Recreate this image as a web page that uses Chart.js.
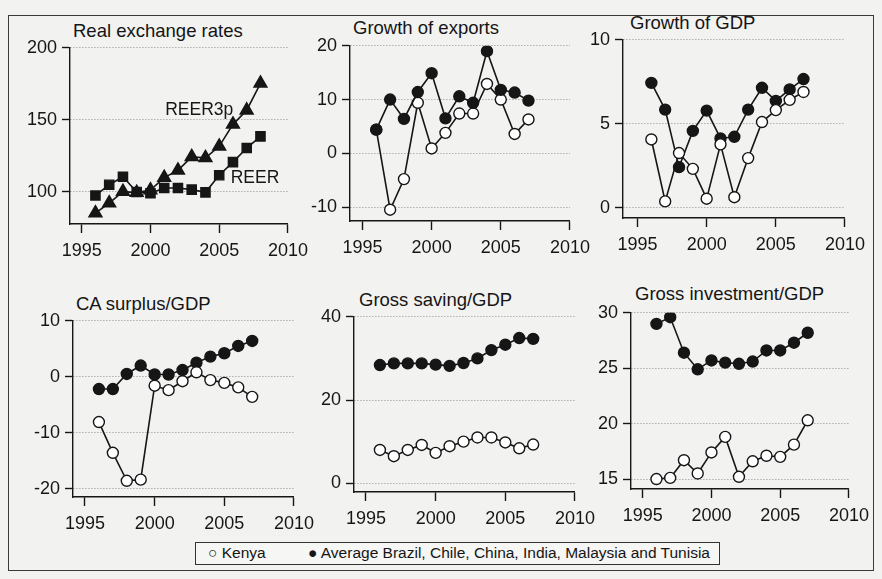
<!DOCTYPE html>
<html>
<head>
<meta charset="utf-8">
<script src="https://cdn.jsdelivr.net/npm/chart.js@4.4.1/dist/chart.umd.min.js"></script>
<style>
  body { margin: 0; width: 882px; height: 579px; position: relative; overflow: hidden;
         background: #f2f2f0; font-family: "Liberation Sans", Arial, Helvetica, sans-serif; color: #151515; }
  #frame { position: absolute; left: 8px; top: 15px; width: 864px; height: 554px; border: 1.5px solid #3a3a3a; }
  .ttl { position: absolute; font-size: 18.5px; line-height: 18px; white-space: nowrap; }
  canvas { position: absolute; }
  #legend { position: absolute; left: 195px; top: 542px; width: 523px; height: 21px; border: 1px solid #333; background: #f6f6f4; }
  #legend span { position: absolute; top: 1px; font-size: 15.5px; line-height: 18px; white-space: nowrap; }
</style>
</head>
<body>
<div id="frame"></div>

<div class="ttl" style="left:73px; top:22px">Real exchange rates</div>
<div class="ttl" style="left:353px; top:19px">Growth of exports</div>
<div class="ttl" style="left:630px; top:14px">Growth of GDP</div>
<div class="ttl" style="left:76px; top:295px">CA surplus/GDP</div>
<div class="ttl" style="left:359px; top:291px">Gross saving/GDP</div>
<div class="ttl" style="left:635px; top:285px">Gross investment/GDP</div>

<div id="legend">
  <span style="left:12px">○ Kenya</span>
  <span style="left:112px">● Average Brazil, Chile, China, India, Malaysia and Tunisia</span>
</div>

<script>
// years
const years = [1996, 1997, 1998, 1999, 2000, 2001, 2002, 2003, 2004, 2005, 2006, 2007];
const yearsReer = [1996, 1997, 1998, 1999, 2000, 2001, 2002, 2003, 2004, 2005, 2006, 2007, 2008];
const xTicks = [1995, 2000, 2005, 2010];

// real exchange rates (index)
const reer   = [97.3, 104.8, 110.3, 99.8, 98.9, 102.5, 102.5, 101.4, 99.5, 111.4, 120.5, 130.3, 138.4];
const reer3p = [85.1, 92.0, 100.0, 99.3, 101.1, 109.8, 114.8, 124.2, 123.5, 131.5, 146.8, 156.6, 175.3];
const reerTicks = [100, 150, 200];

// growth of exports (%)
const exportsKenya = [4.4, -10.5, -4.8, 9.4, 0.9, 3.8, 7.4, 7.4, 12.9, 10.0, 3.6, 6.3];
const exportsAvg   = [4.4, 10.0, 6.4, 11.4, 14.9, 6.5, 10.6, 9.4, 19.0, 11.8, 11.3, 9.8];
const exportsTicks = [-10, 0, 10, 20];

// growth of GDP (%)
const gdpKenya = [4.06, 0.37, 3.25, 2.31, 0.53, 3.77, 0.62, 2.95, 5.1, 5.81, 6.42, 6.89];
const gdpAvg   = [7.43, 5.84, 2.41, 4.57, 5.78, 4.12, 4.22, 5.84, 7.14, 6.36, 7.04, 7.66];
const gdpTicks = [0, 5, 10];

// current account surplus / GDP (%)
const caKenya = [-8.1, -13.6, -18.6, -18.4, -1.6, -2.4, -0.8, 0.8, -0.6, -1.1, -1.9, -3.6];
const caAvg   = [-2.2, -2.2, 0.5, 2.0, 0.4, 0.4, 1.2, 2.5, 3.6, 4.2, 5.5, 6.4];
const caTicks = [-20, -10, 0, 10];

// gross saving / GDP (%)
const savingKenya = [8.0, 6.5, 8.0, 9.2, 7.3, 8.9, 10.0, 11.0, 11.0, 9.8, 8.4, 9.3];
const savingAvg   = [28.4, 28.8, 28.8, 28.8, 28.5, 28.2, 28.9, 30.0, 32.0, 33.3, 34.9, 34.7];
const savingTicks = [0, 20, 40];

// gross investment / GDP (%)
const investKenya = [15.0, 15.1, 16.7, 15.5, 17.4, 18.8, 15.2, 16.6, 17.1, 17.0, 18.1, 20.3];
const investAvg   = [29.0, 29.6, 26.4, 24.9, 25.7, 25.5, 25.4, 25.6, 26.6, 26.6, 27.3, 28.2];
const investTicks = [15, 20, 25, 30];

const INK = '#161616';
const FONT = '"Liberation Sans", Arial, Helvetica, sans-serif';
const AXIS_W = 50, AXIS_H = 38, PAD_T = 12, PAD_R = 26;

function pairs(xs, ys) {
    return xs.map(function (x, i) { return { x: x, y: ys[i] }; });
}

function serie(xs, ys, style, order) {
    var ds = {
        data: pairs(xs, ys),
        borderColor: INK,
        borderWidth: 1.6,
        pointBorderColor: INK,
        pointBorderWidth: 1.4,
        pointRadius: 5.5,
        pointStyle: 'circle',
        pointBackgroundColor: INK,
        order: order
    };
    if (style == 'open') ds.pointBackgroundColor = '#ffffff';
    if (style == 'rect') { ds.pointStyle = 'rect'; ds.pointRadius = 6.5; }
    if (style == 'triangle') { ds.pointStyle = 'triangle'; ds.pointRadius = 7.5; }
    return ds;
}

// text labels for the two REER lines
const reerNames = {
    id: 'reerNames',
    afterDatasetsDraw: function (chart) {
        var ctx = chart.ctx, x = chart.scales.x, y = chart.scales.y;
        ctx.save();
        ctx.fillStyle = INK;
        ctx.font = '17.5px ' + FONT;
        ctx.textAlign = 'center';
        ctx.textBaseline = 'middle';
        ctx.fillText('REER3p', x.getPixelForValue(2003.55), y.getPixelForValue(156.5));
        ctx.fillText('REER', x.getPixelForValue(2007.6), y.getPixelForValue(109.5));
        ctx.restore();
    }
};

function painel(box, yMin, yMax, yTicks, xMin, datasets, plugins) {
    var canvas = document.createElement('canvas');
    var w = box.right - box.left + AXIS_W + PAD_R;
    var h = box.bottom - box.top + PAD_T + AXIS_H;
    canvas.width = w;
    canvas.height = h;
    canvas.style.left = (box.left - AXIS_W) + 'px';
    canvas.style.top = (box.top - PAD_T) + 'px';
    canvas.style.width = w + 'px';
    canvas.style.height = h + 'px';
    document.body.appendChild(canvas);

    new Chart(canvas, {
        type: 'line',
        data: { datasets: datasets },
        plugins: plugins || [],
        options: {
            responsive: false,
            animation: false,
            events: [],
            layout: { padding: { top: PAD_T, right: PAD_R, left: 0, bottom: 0 } },
            plugins: { legend: { display: false }, tooltip: { enabled: false } },
            scales: {
                x: {
                    type: 'linear',
                    min: xMin,
                    max: 2010,
                    afterBuildTicks: function (s) { s.ticks = xTicks.map(function (v) { return { value: v }; }); },
                    afterFit: function (s) { s.height = AXIS_H; },
                    grid: { drawOnChartArea: false, drawTicks: true, tickLength: 9, tickColor: INK, tickWidth: 1.4, color: INK },
                    border: { display: true, color: INK, width: 1.4 },
                    ticks: { color: INK, font: { size: 18, family: FONT }, padding: 7, maxRotation: 0, autoSkip: false,
                             callback: function (v) { return String(v); } }
                },
                y: {
                    min: yMin,
                    max: yMax,
                    afterBuildTicks: function (s) { s.ticks = yTicks.map(function (v) { return { value: v }; }); },
                    afterFit: function (s) { s.width = AXIS_W; },
                    grid: { color: '#8e8e8e', lineWidth: 1, tickLength: 8, tickColor: INK, tickWidth: 1.4 },
                    border: { display: true, color: INK, width: 1.4, dash: [1, 2] },
                    ticks: { color: INK, font: { size: 18, family: FONT }, padding: 5, autoSkip: false }
                }
            }
        }
    });
}

painel({ left: 70, top: 44, right: 289, bottom: 224 }, 77.5, 200, reerTicks, 1994.15, [
    serie(yearsReer, reer, 'rect', 2),
    serie(yearsReer, reer3p, 'triangle', 1)
], [reerNames]);

painel({ left: 350, top: 42, right: 571, bottom: 221 }, -12.6, 20, exportsTicks, 1994.1, [
    serie(years, exportsKenya, 'open', 2),
    serie(years, exportsAvg, 'filled', 1)
]);

painel({ left: 623, top: 36, right: 846, bottom: 218 }, -0.62, 10, gdpTicks, 1993.95, [
    serie(years, gdpKenya, 'open', 1),
    serie(years, gdpAvg, 'filled', 2)
]);

painel({ left: 73, top: 317, right: 295, bottom: 497 }, -21.5, 10, caTicks, 1994.14, [
    serie(years, caKenya, 'open', 1),
    serie(years, caAvg, 'filled', 2)
]);

painel({ left: 354, top: 313, right: 576, bottom: 492 }, -2.1, 40, savingTicks, 1994.14, [
    serie(years, savingKenya, 'open', 1),
    serie(years, savingAvg, 'filled', 2)
]);

painel({ left: 631, top: 309, right: 850, bottom: 489 }, 14.1, 30, investTicks, 1994.15, [
    serie(years, investKenya, 'open', 1),
    serie(years, investAvg, 'filled', 2)
]);
</script>
</body>
</html>
